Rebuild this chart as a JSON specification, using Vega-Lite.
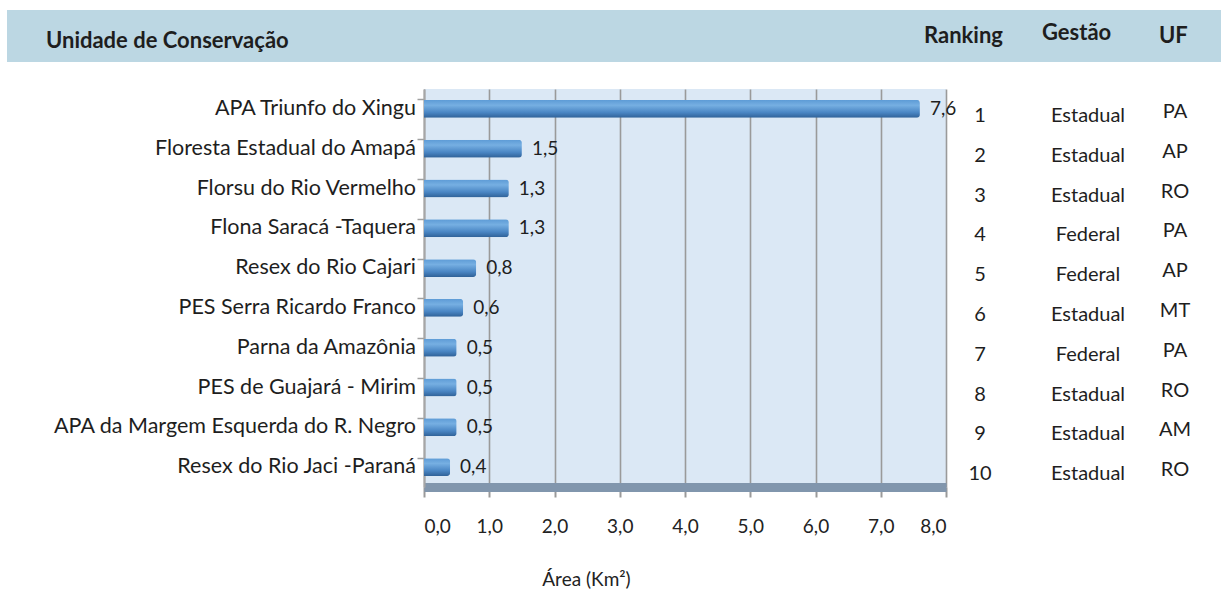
{
  "$schema": "https://vega.github.io/schema/vega-lite/v6.json",
  "background": "white",
  "padding": {"left": 7, "top": 10, "right": 0, "bottom": 0},
  "bounds": "flush",
  "spacing": 79,
  "config": {
    "locale": {"number": {"decimal": ",", "thousands": ".", "grouping": [3], "currency": ["R$ ", ""]}},
    "font": "Lato",
    "view": {"stroke": null},
    "text": {"font": "Lato", "color": "#1e1e1e"}
  },
  "datasets": {
    "uc": [
      {"posicao": 1, "nome": "APA Triunfo do Xingu", "area": 7.6, "gestao": "Estadual", "uf": "PA"},
      {"posicao": 2, "nome": "Floresta Estadual do Amapá", "area": 1.5, "gestao": "Estadual", "uf": "AP"},
      {"posicao": 3, "nome": "Florsu do Rio Vermelho", "area": 1.3, "gestao": "Estadual", "uf": "RO"},
      {"posicao": 4, "nome": "Flona Saracá -Taquera", "area": 1.3, "gestao": "Federal", "uf": "PA"},
      {"posicao": 5, "nome": "Resex do Rio Cajari", "area": 0.8, "gestao": "Federal", "uf": "AP"},
      {"posicao": 6, "nome": "PES Serra Ricardo Franco", "area": 0.6, "gestao": "Estadual", "uf": "MT"},
      {"posicao": 7, "nome": "Parna da Amazônia", "area": 0.5, "gestao": "Federal", "uf": "PA"},
      {"posicao": 8, "nome": "PES de Guajará - Mirim", "area": 0.5, "gestao": "Estadual", "uf": "RO"},
      {"posicao": 9, "nome": "APA da Margem Esquerda do R. Negro", "area": 0.5, "gestao": "Estadual", "uf": "AM"},
      {"posicao": 10, "nome": "Resex do Rio Jaci -Paraná", "area": 0.4, "gestao": "Estadual", "uf": "RO"}
    ]
  },
  "vconcat": [
    {
      "bounds": "flush",
      "spacing": 0,
      "hconcat": [
        {
          "width": 917,
          "height": 52,
          "view": {"fill": "#bcd7e3", "stroke": null},
          "data": {"values": [{"titulo": "Unidade de Conservação"}]},
          "mark": {"type": "text", "align": "left", "baseline": "middle", "dx": 39, "dy": 5, "fontSize": 22, "fontWeight": "bold"},
          "encoding": {
            "x": {"datum": 0, "type": "quantitative", "scale": {"domain": [0, 1]}, "axis": null},
            "text": {"field": "titulo"}
          }
        },
        {
          "width": 118,
          "height": 52,
          "view": {"fill": "#bcd7e3", "stroke": null},
          "data": {"values": [{"titulo": "Ranking"}]},
          "mark": {"type": "text", "align": "left", "baseline": "middle", "dy": 0, "fontSize": 22, "fontWeight": "bold"},
          "encoding": {
            "x": {"datum": 0, "type": "quantitative", "scale": {"domain": [0, 1]}, "axis": null},
            "text": {"field": "titulo"}
          }
        },
        {
          "width": 117,
          "height": 52,
          "view": {"fill": "#bcd7e3", "stroke": null},
          "data": {"values": [{"titulo": "Gestão"}]},
          "mark": {"type": "text", "align": "left", "baseline": "middle", "dy": -3, "fontSize": 22, "fontWeight": "bold"},
          "encoding": {
            "x": {"datum": 0, "type": "quantitative", "scale": {"domain": [0, 1]}, "axis": null},
            "text": {"field": "titulo"}
          }
        },
        {
          "width": 62,
          "height": 52,
          "view": {"fill": "#bcd7e3", "stroke": null},
          "data": {"values": [{"titulo": "UF"}]},
          "mark": {"type": "text", "align": "left", "baseline": "middle", "dy": 0, "fontSize": 22, "fontWeight": "bold"},
          "encoding": {
            "x": {"datum": 0, "type": "quantitative", "scale": {"domain": [0, 1]}, "axis": null},
            "text": {"field": "titulo"}
          }
        }
      ]
    },
    {
      "bounds": "flush",
      "spacing": 0,
      "hconcat": [
        {
          "width": 417,
          "height": 398,
          "data": {"name": "uc"},
          "mark": {"type": "text", "align": "right", "baseline": "middle", "dx": -8, "fontSize": 21.5},
          "encoding": {
            "x": {"datum": 1, "type": "quantitative", "scale": {"domain": [0, 1]}, "axis": null},
            "y": {"field": "nome", "type": "nominal", "sort": null, "scale": {"paddingInner": 0.55, "paddingOuter": 0.275}, "axis": null},
            "text": {"field": "nome"}
          }
        },
        {
          "width": 522,
          "height": 398,
          "view": {"fill": "#dbe8f5", "stroke": null},
          "data": {"name": "uc"},
          "encoding": {
            "y": {
              "field": "nome",
              "type": "nominal",
              "sort": null,
              "scale": {"paddingInner": 0.55, "paddingOuter": 0.275},
              "axis": {"labels": false, "title": null, "ticks": true, "tickSize": 7, "tickColor": "#a0a0a0", "tickWidth": 1.5, "bandPosition": 0, "domain": true, "domainColor": "#a6a6a6", "domainWidth": 2, "grid": false}
            },
            "x": {
              "field": "area",
              "type": "quantitative",
              "scale": {"domain": [0, 8], "nice": false},
              "axis": {
                "values": [0, 1, 2, 3, 4, 5, 6, 7, 8],
                "format": ".1f",
                "grid": true,
                "gridColor": "#9a9a9a",
                "gridWidth": 1.6,
                "domain": true,
                "domainColor": "#8196ad",
                "domainWidth": 9,
                "ticks": true,
                "tickColor": "#9a9a9a",
                "tickWidth": 2,
                "tickSize": 10,
                "labelFont": "Lato",
                "labelFontSize": 19,
                "labelColor": "#222222",
                "labelPadding": 20,
                "title": "Área (Km²)",
                "titleFont": "Lato",
                "titleFontSize": 19,
                "titleFontWeight": "normal",
                "titleColor": "#222222",
                "titlePadding": 34,
                "titleX": 162
              }
            }
          },
          "layer": [
            {
              "mark": {
                "type": "bar",
                "cornerRadiusEnd": 3,
                "color": {
                  "gradient": "linear",
                  "x1": 0, "y1": 0, "x2": 0, "y2": 1,
                  "stops": [
                    {"offset": 0, "color": "#5d9bd6"},
                    {"offset": 0.3, "color": "#76afe2"},
                    {"offset": 0.7, "color": "#4a86c4"},
                    {"offset": 1, "color": "#2f6197"}
                  ]
                }
              }
            },
            {
              "mark": {"type": "text", "align": "left", "baseline": "middle", "dx": 10, "fontSize": 19},
              "encoding": {"text": {"field": "area", "type": "quantitative", "format": ".1f"}}
            }
          ]
        },
        {
          "width": 68,
          "height": 398,
          "data": {"name": "uc"},
          "mark": {"type": "text", "align": "center", "baseline": "middle", "dy": 7, "fontSize": 20},
          "encoding": {
            "y": {"field": "nome", "type": "nominal", "sort": null, "scale": {"paddingInner": 0.55, "paddingOuter": 0.275}, "axis": null},
            "text": {"field": "posicao"}
          }
        },
        {
          "width": 148,
          "height": 398,
          "data": {"name": "uc"},
          "mark": {"type": "text", "align": "center", "baseline": "middle", "dy": 7, "fontSize": 20},
          "encoding": {
            "y": {"field": "nome", "type": "nominal", "sort": null, "scale": {"paddingInner": 0.55, "paddingOuter": 0.275}, "axis": null},
            "text": {"field": "gestao"}
          }
        },
        {
          "width": 26,
          "height": 398,
          "data": {"name": "uc"},
          "mark": {"type": "text", "align": "center", "baseline": "middle", "dy": 3, "fontSize": 20},
          "encoding": {
            "y": {"field": "nome", "type": "nominal", "sort": null, "scale": {"paddingInner": 0.55, "paddingOuter": 0.275}, "axis": null},
            "text": {"field": "uf"}
          }
        }
      ]
    }
  ]
}
